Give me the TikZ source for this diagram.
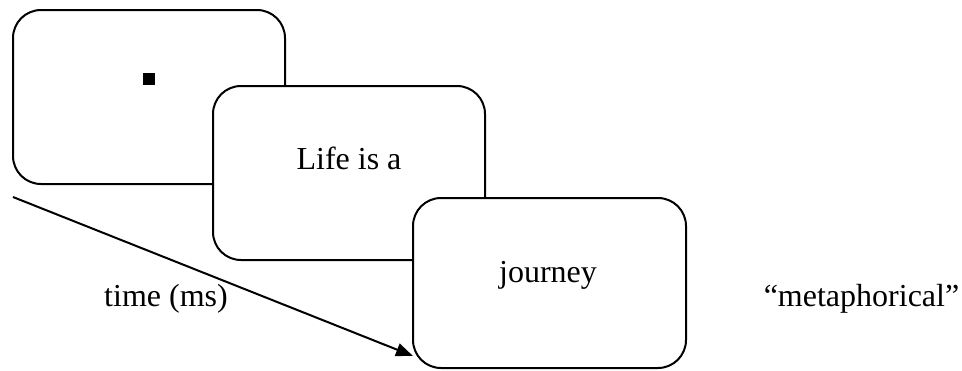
\documentclass[tikz,border=0pt]{standalone}
\usepackage{fontspec}
\setmainfont{Liberation Serif}
\usetikzlibrary{arrows.meta}
\begin{document}
\begin{tikzpicture}[x=1pt,y=-1pt,
  screen/.style={draw=black,fill=white,line width=2pt,rounded corners=28pt,
    minimum width=#1,inner sep=0pt},
  txt/.style={anchor=base,inner sep=0pt,font=\fontsize{32}{38}\selectfont},
  fix/.style={fill=black,minimum size=12pt,inner sep=0pt}]
\useasboundingbox (0,0) rectangle (962,370);
\node[screen=272pt,minimum height=174pt] (s1) at (149,97) {};
\node[fix] (dot) at (148.5,79) {};
\node[screen=272pt,minimum height=174pt] (s2) at (349,173) {};
\node[txt] (t2) at (349,169) {Life is a};
\node[screen=273pt,minimum height=170pt] (s3) at (549.5,283) {};
\node[txt] (t3) at (548,282) {journey};
\coordinate (a0) at (13,197);
\coordinate (a1) at (413,356);
\draw[line width=2pt,-{Triangle[length=17pt,width=13pt]}] (a0) -- (a1);
\node[txt] (time) at (166,306) {time (ms)};
\node[txt] (meta) at (861.5,306) {“metaphorical”};
\end{tikzpicture}
\end{document}
